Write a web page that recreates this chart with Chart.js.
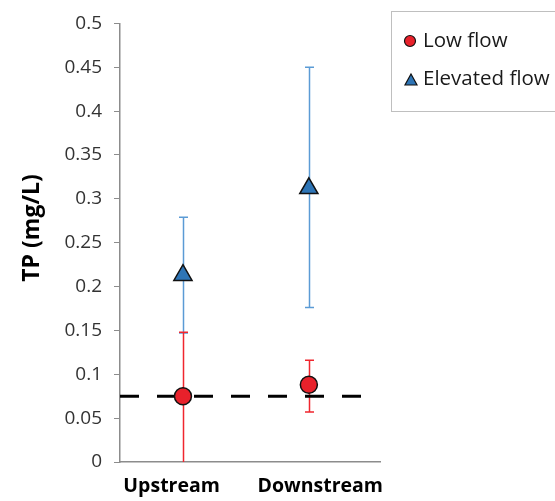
<!DOCTYPE html>
<html>
<head>
<meta charset="utf-8">
<script src="https://cdn.jsdelivr.net/npm/chart.js@4/dist/chart.umd.min.js"></script>
<style>
  html,body{margin:0;padding:0;background:#fff;}
  #wrap{position:relative;width:555px;height:501px;}
</style>
</head>
<body>
<div id="wrap"><canvas id="tpChart" width="555" height="501"></canvas></div>
<script>
// sites along x, TP values in mg/L
const sites = ["Upstream", "Downstream"];
const sitePos = [0.5, 1.5];
const labelPos = [0.41, 1.59];   // labels sit a little wider apart than the markers

const lowFlow = [0.075, 0.088];
const lowFlowLo = [0.0, 0.057];
const lowFlowHi = [0.148, 0.116];

const elevFlow = [0.213, 0.312];
const elevFlowLo = [0.147, 0.176];
const elevFlowHi = [0.279, 0.450];

const tpTarget = 0.075;
const targetSpan = [0, 1.92];

const yTicks = [0, 0.05, 0.1, 0.15, 0.2, 0.25, 0.3, 0.35, 0.4, 0.45, 0.5];

const FONT = "'Open Sans'";

function pts(vals){ return vals.map((v,i)=>({x:sitePos[i], y:v})); }

// whiskers drawn under the markers
const errorBars = {
  id: "errorBars",
  beforeDatasetsDraw(chart){
    const {ctx, scales:{x, y}} = chart;
    const sets = [
      {lo: elevFlowLo, hi: elevFlowHi, color: "#5b9bd5"},
      {lo: lowFlowLo, hi: lowFlowHi, color: "#f0262e"}
    ];
    ctx.save();
    ctx.lineWidth = 1.5;
    for(const s of sets){
      ctx.strokeStyle = s.color;
      sitePos.forEach((p,i)=>{
        const px = Math.round(x.getPixelForValue(p)) + 0.5;
        const y1 = y.getPixelForValue(s.lo[i]), y2 = y.getPixelForValue(s.hi[i]);
        ctx.beginPath();
        ctx.moveTo(px, y1); ctx.lineTo(px, y2);
        if(s.lo[i] > 0){ ctx.moveTo(px-4.5, y1); ctx.lineTo(px+4.5, y1); }
        ctx.moveTo(px-4.5, y2); ctx.lineTo(px+4.5, y2);
        ctx.stroke();
      });
    }
    ctx.restore();
  }
};

// y title (sits a bit above the axis middle) + boxed legend top right
const extras = {
  id: "extras",
  afterDraw(chart){
    const ctx = chart.ctx;
    ctx.save();
    ctx.translate(32, 228); ctx.rotate(-Math.PI/2);
    ctx.font = "bold 23px " + FONT; ctx.fillStyle = "#000";
    ctx.textAlign = "center"; ctx.textBaseline = "middle";
    ctx.fillText("TP (mg/L)", 0, 0);
    ctx.restore();

    ctx.save();
    ctx.strokeStyle = "#bfbfbf"; ctx.lineWidth = 1;
    ctx.strokeRect(391.5, 11.5, 200, 100);
    ctx.lineWidth = 1.2; ctx.strokeStyle = "#111";
    ctx.beginPath(); ctx.arc(410, 41, 5.5, 0, Math.PI*2);
    ctx.fillStyle = "#e8212b"; ctx.fill(); ctx.stroke();
    ctx.beginPath(); ctx.moveTo(411, 74); ctx.lineTo(417, 85); ctx.lineTo(405, 85); ctx.closePath();
    ctx.fillStyle = "#2e75b6"; ctx.fill(); ctx.stroke();
    ctx.font = "20.5px " + FONT; ctx.fillStyle = "#1a1a1a"; ctx.textBaseline = "middle";
    ctx.fillText("Low flow", 423, 41);
    ctx.fillText("Elevated flow", 423, 79);
    ctx.restore();
  }
};

new Chart(document.getElementById("tpChart"), {
  type: "scatter",
  data: {
    datasets: [
      {
        label: "target", type: "line", order: 3,
        data: targetSpan.map(x=>({x, y: tpTarget})),
        borderColor: "#000", borderWidth: 3, borderDash: [19, 18],
        pointRadius: 0, fill: false
      },
      {
        label: "Low flow", order: 2, data: pts(lowFlow),
        pointStyle: "circle", pointRadius: 8.5,
        backgroundColor: "#e8212b", borderColor: "#111", borderWidth: 1.5
      },
      {
        label: "Elevated flow", order: 1, data: pts(elevFlow),
        pointStyle: "triangle", pointRadius: 10.5,
        backgroundColor: "#2e75b6", borderColor: "#111", borderWidth: 1.5
      }
    ]
  },
  options: {
    responsive: false, animation: false,
    layout: { padding: { left: 0, right: 175, top: 18, bottom: 0 } },
    plugins: { legend: { display: false }, tooltip: { enabled: false } },
    scales: {
      x: {
        type: "linear", min: 0, max: 2.065,
        afterFit(s){ s.height = 39; },
        afterBuildTicks(s){ s.ticks = labelPos.map(v=>({value:v})); },
        ticks: {
          autoSkip: false, maxRotation: 0, padding: 13,
          font: { family: FONT, size: 19.5, weight: "bold" }, color: "#000",
          callback: (v)=> sites[labelPos.indexOf(v)]
        },
        grid: { display: true, drawOnChartArea: false, drawTicks: false },
        border: { color: "#8c8c8c", width: 1.5 }
      },
      y: {
        min: 0, max: 0.5,
        afterFit(s){ s.width = 120; },
        afterBuildTicks(s){ s.ticks = yTicks.map(v=>({value:v})); },
        ticks: {
          padding: 12, font: { family: FONT, size: 19 }, color: "#333",
          callback: (v)=> String(+v.toFixed(2))
        },
        grid: { drawOnChartArea: false, drawTicks: true, tickLength: 6, color: "#8c8c8c" },
        border: { color: "#8c8c8c", width: 1.5 }
      }
    }
  },
  plugins: [errorBars, extras]
});
</script>
</body>
</html>
